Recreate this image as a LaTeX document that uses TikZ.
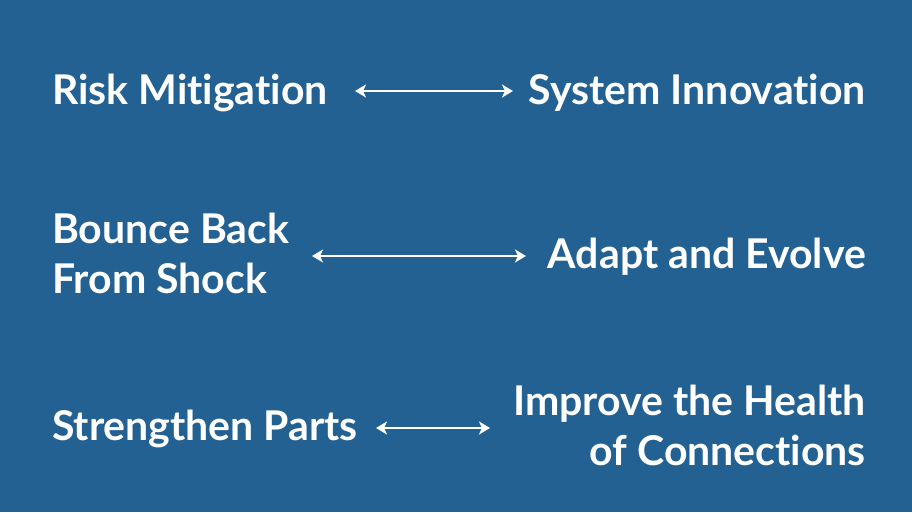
\documentclass[tikz,border=0pt]{standalone}
\usepackage{fontspec}
\setmainfont{Lato}[UprightFont=* Bold,Ligatures={NoCommon,NoRare,NoDiscretionary}]
\usetikzlibrary{arrows.meta}
\definecolor{bgblue}{RGB}{35,97,146}
\begin{document}
\begin{tikzpicture}[x=1pt,y=-1pt,
  lbl/.style={text=white,inner sep=0pt,font=\fontsize{41}{50}\selectfont},
  lft/.style={lbl,anchor=base west,align=left},
  rgt/.style={lbl,anchor=base east,align=right},
  dbl/.style={draw=white,line width=2pt,{Stealth[length=11pt,width=13pt,inset=3pt]}-{Stealth[length=11pt,width=13pt,inset=3pt]}}]
\fill[bgblue] (0,0) rectangle (912,512);
\useasboundingbox (0,0) rectangle (912,512);
\node[lft] (a1) at (52,104) {Risk Mitigation};
\node[rgt] (b1) at (866,104) {System Innovation};
\node[lft] (a2) at (52,293) {Bounce Back\\From Shock};
\node[rgt] (b2) at (866,268) {Adapt and Evolve};
\node[lft] (a3) at (52,440) {Strengthen Parts};
\node[rgt] (b3) at (866,465) {Improve the Health\\of Connections};
\coordinate (p1) at (355,91); \coordinate (q1) at (513,91);
\coordinate (p2) at (312,256); \coordinate (q2) at (526,256);
\coordinate (p3) at (376,428); \coordinate (q3) at (490,428);
\draw[dbl] (p1) -- (q1);
\draw[dbl] (p2) -- (q2);
\draw[dbl] (p3) -- (q3);
\end{tikzpicture}
\end{document}
